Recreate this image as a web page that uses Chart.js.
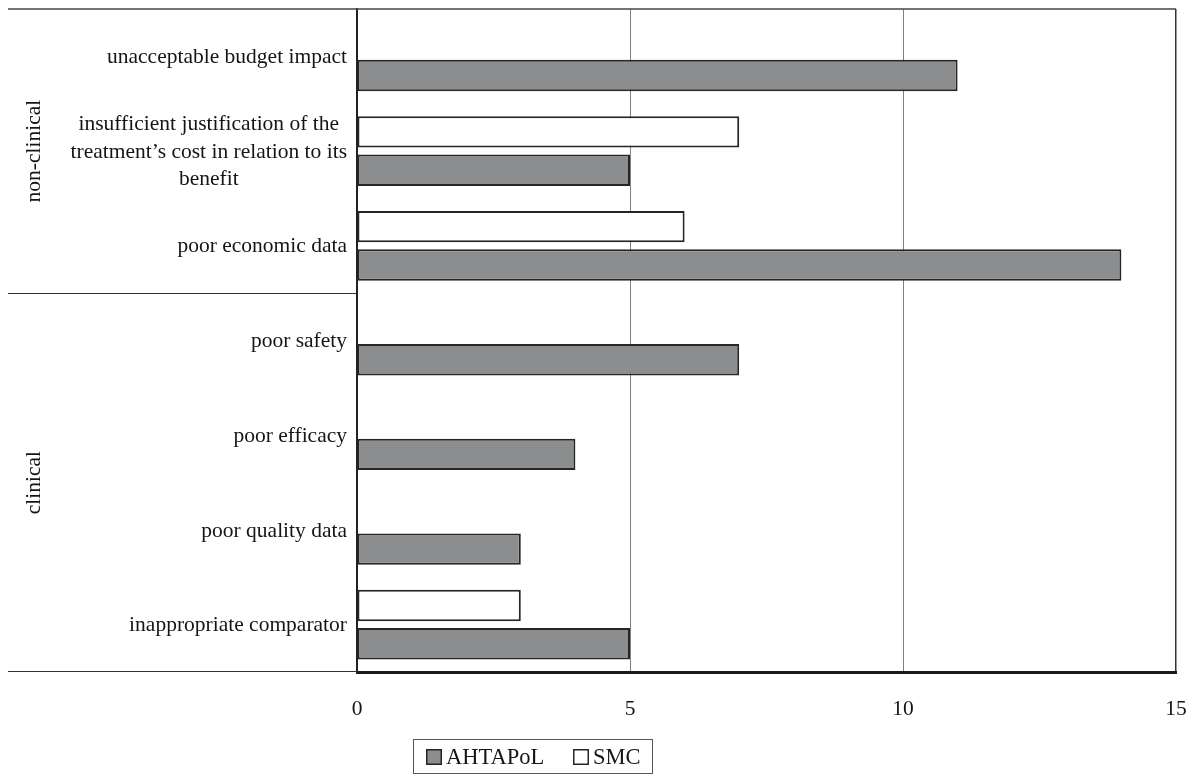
<!DOCTYPE html>
<html>
<head>
<meta charset="utf-8">
<script src="https://cdn.jsdelivr.net/npm/chart.js@4"></script>
<style>
html,body{margin:0;padding:0;background:#fff;}
canvas{display:block;}
</style>
</head>
<body>
<canvas id="c" width="1194" height="776"></canvas>
<script>
const categories = [
  ["unacceptable budget impact"],
  ["insufficient justification of the", "treatment\u2019s cost in relation to its", "benefit"],
  ["poor economic data"],
  ["poor safety"],
  ["poor efficacy"],
  ["poor quality data"],
  ["inappropriate comparator"]
];
const groups = [
  {name: "non-clinical", from: 0, to: 2},
  {name: "clinical", from: 3, to: 6}
];
const seriesNames = ["SMC", "AHTAPoL"];
const smcValues = [0, 7, 6, 0, 0, 0, 3];
const ahtapolValues = [11, 5, 14, 7, 4, 3, 5];
const xTicks = [0, 5, 10, 15];
const legendOrder = ["AHTAPoL", "SMC"];

const FONT = "'Liberation Serif', 'Times New Roman', serif";
const GRAY = '#8c8d8f';
const EDGE = '#262626';
const TEXT = '#151515';
const colors = {SMC: '#ffffff', AHTAPoL: GRAY};

const decor = {
  id: 'decor',
  afterDraw(chart) {
    const ctx = chart.ctx;
    const a = chart.chartArea;
    const y = chart.scales.y;
    ctx.save();
    ctx.strokeStyle = '#444';
    ctx.lineWidth = 1.5;
    ctx.beginPath();
    ctx.moveTo(8, a.top); ctx.lineTo(a.right, a.top);
    ctx.stroke();
    ctx.lineWidth = 1;
    ctx.strokeStyle = '#333';
    groups.forEach((g, gi) => {
      if (gi < groups.length - 1) {
        const yy = Math.round((y.getPixelForValue(g.to) + y.getPixelForValue(g.to + 1)) / 2) + 0.5;
        ctx.beginPath(); ctx.moveTo(8, yy); ctx.lineTo(a.left, yy); ctx.stroke();
      }
    });
    ctx.beginPath(); ctx.moveTo(8, a.bottom - 0.5); ctx.lineTo(a.left, a.bottom - 0.5); ctx.stroke();

    ctx.fillStyle = TEXT;
    ctx.font = '21.5px ' + FONT;
    ctx.textAlign = 'center';
    ctx.textBaseline = 'middle';
    groups.forEach((g, gi) => {
      const top = gi === 0 ? a.top : (y.getPixelForValue(g.from - 1) + y.getPixelForValue(g.from)) / 2;
      const bot = gi === groups.length - 1 ? a.bottom : (y.getPixelForValue(g.to) + y.getPixelForValue(g.to + 1)) / 2;
      ctx.save();
      ctx.translate(34, (top + bot) / 2);
      ctx.rotate(-Math.PI / 2);
      ctx.fillText(g.name, 0, 0);
      ctx.restore();
    });

    const rightEdge = a.left - 10;
    const lh = 27.5;
    categories.forEach((lines, i) => {
      const cy = y.getPixelForValue(i) + 1;
      const widths = lines.map(l => ctx.measureText(l).width);
      const maxW = Math.max(...widths);
      const cx = rightEdge - maxW / 2;
      lines.forEach((l, k) => {
        const ly = cy + (k - (lines.length - 1) / 2) * lh;
        ctx.fillText(l, cx, ly);
      });
    });

    ctx.strokeStyle = '#555';
    ctx.lineWidth = 1;
    ctx.strokeRect(413.5, 739.5, 239, 34);
    ctx.font = '22.5px ' + FONT;
    ctx.textAlign = 'left';
    const items = [{x: 426, tx: 446}, {x: 573, tx: 593}];
    legendOrder.forEach((name, k) => {
      const it = items[k];
      ctx.fillStyle = colors[name];
      ctx.fillRect(it.x, 749, 16, 16);
      ctx.strokeStyle = EDGE;
      ctx.lineWidth = 1.5;
      ctx.strokeRect(it.x + 0.75, 749.75, 14.5, 14.5);
      ctx.fillStyle = TEXT;
      ctx.fillText(name, it.tx, 758);
    });
    ctx.restore();
  }
};

new Chart(document.getElementById('c'), {
  type: 'bar',
  data: {
    labels: categories,
    datasets: [
      {label: seriesNames[0], data: smcValues, backgroundColor: colors.SMC, borderColor: EDGE, borderWidth: 2, borderSkipped: false},
      {label: seriesNames[1], data: ahtapolValues, backgroundColor: colors.AHTAPoL, borderColor: EDGE, borderWidth: 2, borderSkipped: false}
    ]
  },
  options: {
    indexAxis: 'y',
    responsive: false,
    animation: false,
    devicePixelRatio: 1,
    categoryPercentage: 0.81,
    barPercentage: 0.82,
    layout: {autoPadding: false, padding: {top: 9, right: 18, left: 0, bottom: 0}},
    plugins: {legend: {display: false}, tooltip: {enabled: false}},
    scales: {
      x: {
        min: 0, max: 15,
        afterBuildTicks(scale) { scale.ticks = xTicks.map(v => ({value: v})); },
        afterFit(scale) { scale.height = 104; scale.paddingRight = 0; scale.paddingLeft = 0; },
        ticks: {font: {family: FONT, size: 21.5}, color: TEXT, padding: 24, maxRotation: 0},
        grid: {
          drawTicks: false,
          color: ctx => ctx.tick && ctx.tick.value === 15 ? '#333' : (ctx.tick && ctx.tick.value === 0 ? 'rgba(0,0,0,0)' : '#808080'),
          lineWidth: ctx => ctx.tick && ctx.tick.value === 15 ? 1.5 : 1
        },
        border: {display: true, color: '#1a1a1a', width: 3}
      },
      y: {
        afterFit(scale) { scale.width = 357; },
        ticks: {display: false},
        grid: {display: false, drawTicks: false},
        border: {display: true, color: '#222', width: 2}
      }
    }
  },
  plugins: [decor]
});
</script>
</body>
</html>
